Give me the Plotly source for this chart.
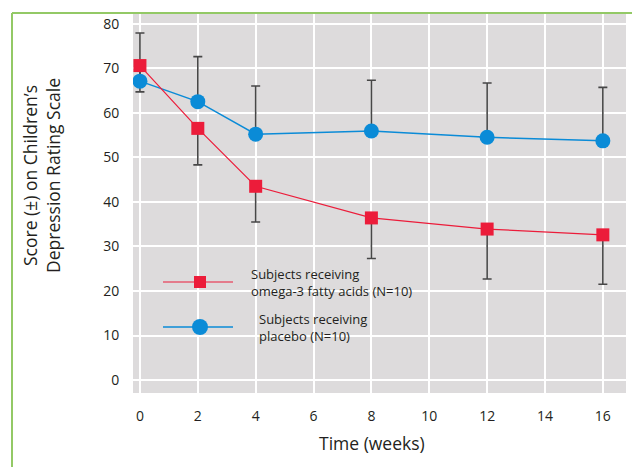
import plotly.graph_objects as go

# Study data: mean CDRS score by week, with one-sided error bars
weeks = [0, 2, 4, 8, 12, 16]
omega3_score = [70.6, 56.5, 43.5, 36.4, 33.9, 32.6]
omega3_err_minus = [5.9, 8.2, 8.0, 9.1, 11.2, 11.1]
placebo_score = [67.1, 62.5, 55.2, 55.9, 54.5, 53.7]
placebo_err_plus = [10.8, 10.1, 10.8, 11.4, 12.2, 12.0]

x_ticks = [0, 2, 4, 6, 8, 10, 12, 14, 16]
y_ticks = [0, 10, 20, 30, 40, 50, 60, 70, 80]

RED = "#ec1c3a"
BLUE = "#0a8bd7"
ERR = "#474747"
GREEN = "#93c966"
TEXT = "#231f20"

W, H = 632, 467
ML, MR, MT, MB = 133, 6, 13, 74
PW, PH = W - ML - MR, H - MT - MB


def px(x):
    return (x - ML) / PW


def py(y):
    return (H - MB - y) / PH


fig = go.Figure()

# error bars first so markers sit on top
fig.add_trace(go.Scatter(
    x=weeks, y=placebo_score, mode="markers",
    marker=dict(size=1, opacity=0), hoverinfo="skip", showlegend=False,
    error_y=dict(type="data", symmetric=False, array=placebo_err_plus,
                 arrayminus=[0] * len(weeks), color=ERR, thickness=1.6, width=4.5),
))
fig.add_trace(go.Scatter(
    x=weeks, y=omega3_score, mode="markers",
    marker=dict(size=1, opacity=0), hoverinfo="skip", showlegend=False,
    error_y=dict(type="data", symmetric=False, array=[0] * len(weeks),
                 arrayminus=omega3_err_minus, color=ERR, thickness=1.6, width=4.5),
))

fig.add_trace(go.Scatter(
    x=weeks, y=placebo_score, mode="lines+markers", name="placebo",
    line=dict(color=BLUE, width=1.5),
    marker=dict(symbol="circle", size=15, color=BLUE),
    showlegend=False,
))
fig.add_trace(go.Scatter(
    x=weeks, y=omega3_score, mode="lines+markers", name="omega-3",
    line=dict(color=RED, width=1.2),
    marker=dict(symbol="square", size=13, color=RED),
    showlegend=False,
))

shapes = []
annotations = []

# key drawn inside the plot area
for (ly, color, lw, kind, size, tx, label) in [
    (282, RED, 1.2, "rect", 12, 249, "Subjects receiving<br>omega-3 fatty acids (N=10)"),
    (327, BLUE, 1.5, "circle", 16, 257, "Subjects receiving<br>placebo (N=10)"),
]:
    shapes.append(dict(type="line", xref="paper", yref="paper",
                       x0=px(163), x1=px(233), y0=py(ly), y1=py(ly),
                       line=dict(color=color, width=lw)))
    shapes.append(dict(type=kind, xref="paper", yref="paper",
                       xsizemode="pixel", ysizemode="pixel",
                       xanchor=px(200), yanchor=py(ly),
                       x0=-size / 2, x1=size / 2, y0=-size / 2, y1=size / 2,
                       fillcolor=color, line=dict(width=0)))
    annotations.append(dict(xref="paper", yref="paper", x=px(tx), y=py(ly),
                            xanchor="left", yanchor="middle", align="left",
                            showarrow=False, text=label,
                            font=dict(family="Open Sans", size=13, color=TEXT)))

# green frame lines
shapes.append(dict(type="line", xref="paper", yref="paper",
                   x0=px(12), x1=px(12), y0=py(13), y1=py(470),
                   line=dict(color=GREEN, width=2), layer="above"))
shapes.append(dict(type="line", xref="paper", yref="paper",
                   x0=px(12), x1=px(634), y0=py(13), y1=py(13),
                   line=dict(color=GREEN, width=2), layer="above"))

# axis titles
annotations.append(dict(xref="paper", yref="paper", x=px(41), y=py(176),
                        xanchor="center", yanchor="middle",
                        textangle=-90, showarrow=False,
                        text="Score (±) on Children’s<br>Depression Rating Scale",
                        font=dict(family="Open Sans", size=17.5, color=TEXT)))
annotations.append(dict(xref="paper", yref="paper", x=px(372), y=py(443),
                        xanchor="center", yanchor="middle",
                        showarrow=False, text="Time (weeks)",
                        font=dict(family="Open Sans", size=17.5, color=TEXT)))

fig.update_layout(
    width=W, height=H,
    margin=dict(l=ML, r=MR, t=MT, b=MB, pad=0),
    paper_bgcolor="white",
    plot_bgcolor="#dddbdc",
    shapes=shapes,
    annotations=annotations,
    font=dict(family="Open Sans", size=14, color=TEXT),
    xaxis=dict(range=[-0.24, 16.8], tickvals=x_ticks, showgrid=True,
               gridcolor="white", gridwidth=1.5, zeroline=False,
               ticks="outside", ticklen=10, tickcolor="rgba(0,0,0,0)",
               showline=False),
    yaxis=dict(range=[-2.9, 82.4], tickvals=y_ticks, showgrid=True,
               gridcolor="white", gridwidth=1.5, zeroline=False,
               ticks="outside", ticklen=10, tickcolor="rgba(0,0,0,0)",
               showline=False),
)

fig.write_html("out.html")
